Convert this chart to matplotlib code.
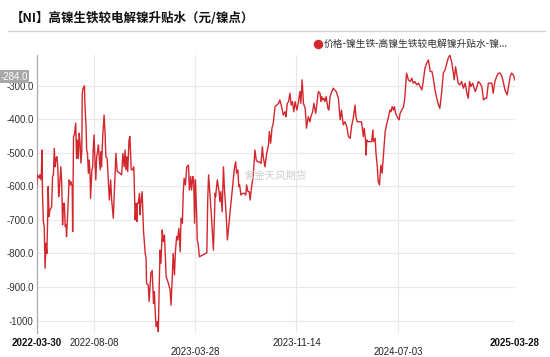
import matplotlib
matplotlib.use('Agg')
import matplotlib.pyplot as plt
from matplotlib.lines import Line2D
import numpy as np
import pandas as pd

plt.rcParams['font.family'] = ['Liberation Sans', 'Noto Sans CJK SC', 'DejaVu Sans']

# ---------------- data ----------------
start_date = "2022-03-30"
day_offsets = [
    0, 1, 6, 7, 10, 12, 13, 15, 17, 19, 21, 23, 25, 26, 28, 30, 34, 36, 38, 40,
    42, 44, 46, 48, 50, 52, 53, 55, 57, 59, 61, 63, 65, 67, 68, 71, 74, 76, 78, 81,
    82, 84, 86, 89, 91, 93, 95, 97, 99, 101, 103, 104, 106, 109, 110, 113, 114, 116, 118, 120,
    122, 123, 126, 128, 129, 131, 133, 135, 137, 139, 141, 143, 145, 147, 148, 151, 154, 156, 158, 161,
    164, 166, 169, 171, 175, 179, 181, 184, 190, 194, 197, 200, 202, 204, 206, 208, 211, 213, 216, 219,
    222, 225, 227, 229, 230, 232, 235, 236, 238, 241, 244, 248, 250, 251, 255, 257, 261, 264, 267, 269,
    271, 273, 276, 278, 280, 282, 284, 287, 289, 292, 296, 301, 305, 307, 310, 312, 315, 317, 320, 322,
    325, 328, 330, 333, 335, 337, 340, 343, 347, 349, 352, 354, 357, 359, 361, 363, 366, 367, 369, 372,
    389, 391, 393, 396, 400, 404, 408, 409, 413, 417, 419, 421, 424, 427, 429, 433, 436, 442, 448, 452,
    455, 457, 460, 462, 464, 467, 471, 475, 478, 480, 483, 486, 488, 492, 495, 499, 502, 505, 509, 513,
    516, 518, 522, 526, 530, 532, 535, 538, 541, 545, 549, 553, 556, 560, 564, 568, 570, 573, 576, 579,
    582, 585, 588, 591, 595, 598, 602, 604, 607, 610, 614, 617, 621, 625, 627, 631, 634, 638, 640, 644,
    648, 650, 652, 654, 657, 659, 662, 666, 668, 671, 675, 678, 685, 690, 694, 697, 701, 705, 709, 713,
    717, 720, 724, 728, 730, 733, 740, 743, 747, 749, 752, 753, 755, 758, 766, 769, 770, 774, 776, 779,
    781, 784, 787, 790, 793, 797, 801, 804, 808, 810, 813, 816, 818, 821, 826, 829, 831, 835, 839, 842,
    846, 850, 854, 858, 861, 865, 869, 873, 877, 881, 884, 888, 892, 896, 900, 904, 907, 911, 915, 919,
    922, 926, 930, 934, 938, 941, 945, 949, 953, 955, 958, 961, 964, 968, 972, 976, 980, 984, 987, 990,
    993, 997, 1003, 1006, 1010, 1014, 1018, 1022, 1025, 1029, 1033, 1041, 1044, 1048, 1052, 1056, 1060, 1064, 1067, 1071,
    1076, 1083, 1086, 1090, 1094,
]
spread_values = [
    -596, -566, -576, -566, -581, -492, -621, -705, -720, -844, -770, -800, -690, -601, -690, -671, -661, -571, -566, -487,
    -542, -517, -512, -542, -631, -601, -581, -542, -591, -715, -651, -651, -720, -715, -750, -671, -581, -596, -586, -601,
    -735, -452, -447, -412, -517, -462, -517, -442, -472, -531, -492, -323, -308, -301, -353, -432, -492, -502, -561, -522,
    -571, -636, -551, -542, -492, -447, -522, -581, -512, -497, -477, -517, -551, -497, -542, -447, -388, -437, -512, -517,
    -591, -641, -581, -636, -695, -561, -502, -556, -561, -566, -502, -542, -492, -551, -512, -556, -462, -452, -551, -551,
    -542, -700, -651, -705, -651, -651, -621, -685, -651, -616, -730, -800, -814, -889, -894, -943, -859, -851, -949, -914,
    -978, -1018, -1003, -1033, -899, -790, -829, -730, -765, -745, -869, -889, -909, -954, -869, -800, -864, -795, -750, -760,
    -725, -795, -695, -710, -621, -576, -596, -542, -537, -611, -571, -611, -571, -581, -710, -581, -700, -760, -770, -810,
    -798, -641, -566, -621, -700, -790, -621, -631, -581, -616, -646, -616, -676, -542, -601, -680, -760, -680, -601, -546,
    -527, -561, -551, -601, -596, -626, -621, -621, -626, -596, -616, -616, -641, -596, -571, -492, -522, -527, -527, -532,
    -482, -512, -542, -502, -477, -437, -472, -427, -412, -363, -358, -353, -343, -363, -388, -378, -393, -353, -348, -323,
    -358, -348, -378, -348, -373, -353, -318, -353, -283, -353, -368, -427, -393, -408, -393, -378, -353, -383, -363, -318,
    -323, -348, -333, -343, -338, -348, -333, -368, -373, -333, -318, -308, -318, -338, -402, -373, -417, -408, -422, -452,
    -457, -422, -397, -358, -393, -408, -408, -408, -452, -427, -462, -507, -462, -467, -467, -432, -467, -457, -502, -542,
    -586, -596, -537, -561, -507, -437, -412, -397, -373, -378, -363, -373, -363, -383, -397, -402, -383, -373, -363, -335,
    -263, -283, -288, -278, -293, -288, -298, -293, -303, -313, -288, -248, -233, -224, -258, -258, -278, -313, -338, -358,
    -368, -323, -263, -253, -233, -219, -209, -229, -263, -283, -244, -268, -293, -298, -288, -308, -293, -323, -338, -288,
    -303, -293, -318, -308, -288, -293, -303, -343, -338, -338, -293, -293, -323, -288, -273, -263, -263, -273, -288, -313,
    -328, -273, -263, -268, -284,
]
tick_dates = ["2022-03-30", "2022-08-08", "2023-03-28", "2023-11-14", "2024-07-03", "2025-03-28"]
y_ticks = [-1000, -900, -800, -700, -600, -500, -400, -300]
y_tick_labels = ["-1000", "-900.0", "-800.0", "-700.0", "-600.0", "-500.0", "-400.0", "-300.0"]
title_text = "【NI】高镍生铁较电解镍升贴水（元/镍点）"
legend_text = "价格-镍生铁-高镍生铁较电解镍升贴水-镍..."
watermark_text = "紫金天风期货"
last_value_text = "-284.0"

# ---------------- figure ----------------
W, H = 550, 357
fig = plt.figure(figsize=(W / 100, H / 100), dpi=100)
fig.patch.set_facecolor('white')

left_px, right_px, top_px, bottom_px = 36.8, 515, 55, 333
ax = fig.add_axes([left_px / W, 1 - bottom_px / H, (right_px - left_px) / W, (bottom_px - top_px) / H])

dates = pd.Timestamp(start_date) + pd.to_timedelta(day_offsets, unit='D')
vals = np.array(spread_values, dtype=float)
line_color = '#d3272e'
ax.plot(dates, vals, color=line_color, lw=1.0, zorder=3)

ax.set_xlim(pd.Timestamp(tick_dates[0]), pd.Timestamp(tick_dates[-1]))
ax.set_ylim(vals.min() - 4, vals.max())

for s in ['top', 'right', 'bottom']:
    ax.spines[s].set_visible(False)
ax.spines['left'].set_color('#aaaaaa')
ax.spines['left'].set_linewidth(0.9)

ax.set_yticks(y_ticks)
ax.set_yticklabels(y_tick_labels)
ax.tick_params(axis='y', length=0, pad=2.2, labelsize=7, labelcolor='#333333')

tick_ts = pd.to_datetime(tick_dates)
ax.set_xticks(tick_ts)
ax.set_xticklabels(tick_dates)
ax.tick_params(axis='x', length=0, labelsize=7, labelcolor='#222222')

ax.grid(True, color='#e8e8e8', lw=0.9, zorder=0)
ax.set_axisbelow(True)

xticks = ax.xaxis.get_major_ticks()
row_pads = [3.6, 3.6, 10.0, 3.6, 10.0, 3.6]
for i, t in enumerate(xticks):
    t.set_pad(row_pads[i])
    if i in (0, len(xticks) - 1):
        t.gridline.set_visible(False)
        t.label1.set_fontweight('bold')
        t.label1.set_color('#111111')

# last value marker label
ax.annotate(last_value_text, xy=(0, vals[-1]), xycoords=('axes fraction', 'data'),
            xytext=(-6.6, 2.6), textcoords='offset points', ha='right', va='center',
            fontsize=7, color='white', annotation_clip=False,
            bbox=dict(boxstyle='square,pad=0.12', fc='#a8a8a8', ec='none'))

# title and separator
fig.text(11 / W, 1 - 18.5 / H, title_text, fontsize=9, fontweight='bold', va='center', ha='left',
         color='#111111', family=['Noto Sans CJK SC', 'DejaVu Sans'])
fig.add_artist(Line2D([8 / W, 545 / W], [1 - 31 / H, 1 - 31 / H], transform=fig.transFigure,
                      color='#cccccc', lw=0.9))

# legend
fig.add_artist(Line2D([317.5 / W], [1 - 43.5 / H], transform=fig.transFigure, marker='o',
                      markersize=5.8, color=line_color, lw=0))
fig.text(323.5 / W, 1 - 43.5 / H, legend_text, fontsize=7, va='center', ha='left',
         color='#333333', family=['Noto Sans CJK SC', 'DejaVu Sans'])

# watermark
fig.text(245 / W, 1 - 175.5 / H, watermark_text, fontsize=7.5, va='center', ha='left',
         color='#cfcfcf', family=['Noto Sans CJK SC', 'DejaVu Sans'], zorder=1)

fig.savefig('out.png', dpi=100, facecolor='white')
